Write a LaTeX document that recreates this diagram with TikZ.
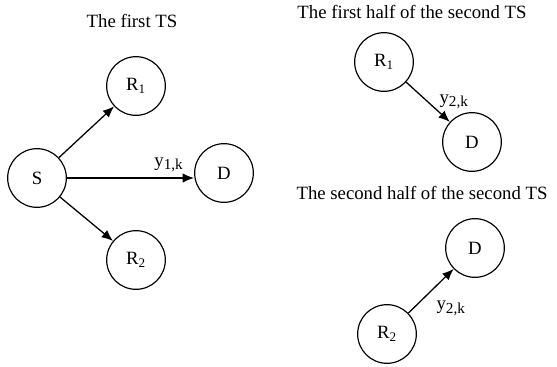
\documentclass[tikz,border=0pt]{standalone}
\usepackage{fontspec}
\setmainfont{Liberation Serif}
\usetikzlibrary{arrows.meta,positioning}
\tikzset{
  station/.style={draw,circle,minimum size=1.76cm,inner sep=0pt,line width=1pt},
  link/.style={line width=1.1pt,-{Latex[length=3.4mm,width=2.8mm]}}
}
\newcommand{\yk}[1]{y\raisebox{-0.4ex}{\fontsize{13}{13}\selectfont #1,k}}

\begin{document}
\begin{tikzpicture}[x=0.03cm,y=-0.03cm,font=\fontsize{16}{19}\selectfont]
  \useasboundingbox (0,0) rectangle (557,367);
  % the first TS
  \node (title1) at (132,21) {The first TS};
  \node[station] (S) at (37,178) {S};
  \node[station] (R1) at (136,86) {R\textsubscript{1}};
  \node[station] (D) at (224,173) {D};
  \node[station] (R2) at (136,260) {R\textsubscript{2}};
  \draw[link] (S) -- (R1);
  \draw[link] (S.east) -- (S.east -| D.west) node[pos=0.8,above=1pt] {\yk{1}};
  \draw[link] (S) -- (R2);
  % the second TS, first half
  \node (title2) at (412,12) {The first half of the second TS};
  \node[station] (R1b) at (384,62) {R\textsubscript{1}};
  \node[station] (Db) at (472,142) {D};
  \draw[link] (R1b) -- (Db) node[pos=0.5,right=6pt] {\yk{2}};
  % the second TS, second half
  \node (title3) at (422,193) {The second half of the second TS};
  \node[station] (Dc) at (475,248) {D};
  \node[station] (R2c) at (387,334) {R\textsubscript{2}};
  \draw[link] (R2c) -- (Dc) node[pos=0.45,below right=4pt] {\yk{2}};
\end{tikzpicture}
\end{document}
